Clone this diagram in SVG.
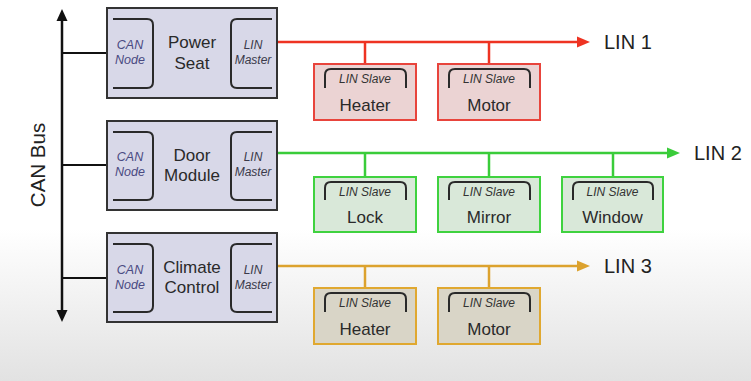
<svg xmlns="http://www.w3.org/2000/svg" width="751" height="381" viewBox="0 0 751 381">
  <defs>
    <linearGradient id="bg" x1="0" y1="0" x2="0" y2="1">
      <stop offset="0" stop-color="#ffffff"/>
      <stop offset="0.6" stop-color="#ffffff"/>
      <stop offset="1" stop-color="#e2e2e2"/>
    </linearGradient>
  </defs>
  <style>
    text { font-family: "Liberation Sans", Arial, sans-serif; text-anchor: middle; }
    .ecu { fill: #d8d8e8; stroke: #333; stroke-width: 2; }
    .brk { fill: none; stroke: #2a2a2a; stroke-width: 2; }
    .title { font-size: 17px; fill: #2a2a2a; }
    .can { font-size: 12.5px; font-style: italic; fill: #4a4a82; }
    .master { font-size: 12px; font-style: italic; fill: #3a3a4a; }
    .slv-lbl { font-size: 12px; font-style: italic; fill: #333; }
    .slv-name { font-size: 17px; fill: #2a2a2a; }
    .s-red { fill: #ebd3d3; stroke: #e8443c; stroke-width: 2; }
    .s-green { fill: #d9e8d9; stroke: #3fd23f; stroke-width: 2; }
    .s-orange { fill: #d9d5c7; stroke: #e0a830; stroke-width: 2; }
    .bus { stroke-width: 2.5; fill: none; }
    .red { stroke: #ee3322; }
    .green { stroke: #3acc3a; }
    .orange { stroke: #dca22e; }
    .lin-lbl { font-size: 20px; fill: #222; text-anchor: start; }
  </style>

  <rect width="751" height="381" fill="url(#bg)"/>

  <!-- connectors -->
  <g id="connectors">
    <!-- CAN bus backbone -->
    <line x1="62" y1="19" x2="62" y2="312" stroke="#111" stroke-width="2.5"/>
    <polygon points="62,9 56.5,21 67.5,21" fill="#111"/>
    <polygon points="62,322 56.5,310 67.5,310" fill="#111"/>
    <line x1="62" y1="53" x2="107" y2="53" stroke="#111" stroke-width="2"/>
    <line x1="62" y1="165" x2="107" y2="165" stroke="#111" stroke-width="2"/>
    <line x1="62" y1="278" x2="107" y2="278" stroke="#111" stroke-width="2"/>

    <!-- LIN 1 -->
    <line class="bus red" x1="277" y1="42" x2="579" y2="42"/>
    <polygon points="590,42 577,36.5 577,47.5" fill="#ee3322"/>
    <line class="bus red" x1="365" y1="42" x2="365" y2="64" stroke-width="2"/>
    <line class="bus red" x1="489" y1="42" x2="489" y2="64" stroke-width="2"/>

    <!-- LIN 2 -->
    <line class="bus green" x1="277" y1="153" x2="669" y2="153"/>
    <polygon points="680,153 667,147.5 667,158.5" fill="#3acc3a"/>
    <line class="bus green" x1="365" y1="153" x2="365" y2="177" stroke-width="2"/>
    <line class="bus green" x1="489" y1="153" x2="489" y2="177" stroke-width="2"/>
    <line class="bus green" x1="613" y1="153" x2="613" y2="177" stroke-width="2"/>

    <!-- LIN 3 -->
    <line class="bus orange" x1="277" y1="266" x2="579" y2="266"/>
    <polygon points="590,266 577,260.5 577,271.5" fill="#dca22e"/>
    <line class="bus orange" x1="365" y1="266" x2="365" y2="288" stroke-width="2"/>
    <line class="bus orange" x1="489" y1="266" x2="489" y2="288" stroke-width="2"/>
  </g>

  <g id="can-bus-label">
    <text transform="translate(45,165) rotate(-90)" font-size="20.5" fill="#222">CAN Bus</text>
  </g>

  <g id="lin-labels">
    <text class="lin-lbl" x="604" y="49">LIN 1</text>
    <text class="lin-lbl" x="694" y="160">LIN 2</text>
    <text class="lin-lbl" x="604" y="273">LIN 3</text>
  </g>

  <!-- ECU nodes -->
  <g id="power-seat" transform="translate(107,8)">
    <rect class="ecu" width="170" height="90"/>
    <path class="brk" d="M6,11 H40 Q46,11 46,17 V74 Q46,80 40,80 H6"/>
    <path class="brk" d="M165,11 H130 Q124,11 124,17 V74 Q124,80 130,80 H165"/>
    <text class="can" x="23" y="41">CAN</text>
    <text class="can" x="23" y="56">Node</text>
    <text class="title" x="85" y="40">Power</text>
    <text class="title" x="85" y="61">Seat</text>
    <text class="master" x="146" y="41">LIN</text>
    <text class="master" x="146" y="56">Master</text>
  </g>

  <g id="door-module" transform="translate(107,121)">
    <rect class="ecu" width="170" height="89"/>
    <path class="brk" d="M6,11 H40 Q46,11 46,17 V73 Q46,79 40,79 H6"/>
    <path class="brk" d="M165,11 H130 Q124,11 124,17 V73 Q124,79 130,79 H165"/>
    <text class="can" x="23" y="40">CAN</text>
    <text class="can" x="23" y="55">Node</text>
    <text class="title" x="85" y="40">Door</text>
    <text class="title" x="85" y="60">Module</text>
    <text class="master" x="146" y="40">LIN</text>
    <text class="master" x="146" y="55">Master</text>
  </g>

  <g id="climate-control" transform="translate(107,233)">
    <rect class="ecu" width="170" height="89"/>
    <path class="brk" d="M6,11 H40 Q46,11 46,17 V73 Q46,79 40,79 H6"/>
    <path class="brk" d="M165,11 H130 Q124,11 124,17 V73 Q124,79 130,79 H165"/>
    <text class="can" x="23" y="41">CAN</text>
    <text class="can" x="23" y="56">Node</text>
    <text class="title" x="85" y="40">Climate</text>
    <text class="title" x="85" y="60">Control</text>
    <text class="master" x="146" y="41">LIN</text>
    <text class="master" x="146" y="56">Master</text>
  </g>

  <!-- LIN slaves -->
  <g id="lin1-heater" transform="translate(314,64)">
    <rect class="s-red" width="102" height="56"/>
    <path class="brk" d="M11,24 V11 Q11,5 17,5 H86 Q92,5 92,11 V24"/>
    <text class="slv-lbl" x="51" y="19">LIN Slave</text>
    <text class="slv-name" x="51" y="47">Heater</text>
  </g>
  <g id="lin1-motor" transform="translate(438,64)">
    <rect class="s-red" width="102" height="56"/>
    <path class="brk" d="M11,24 V11 Q11,5 17,5 H86 Q92,5 92,11 V24"/>
    <text class="slv-lbl" x="51" y="19">LIN Slave</text>
    <text class="slv-name" x="51" y="47">Motor</text>
  </g>

  <g id="lin2-lock" transform="translate(314,177)">
    <rect class="s-green" width="102" height="55"/>
    <path class="brk" d="M11,23 V11 Q11,5 17,5 H86 Q92,5 92,11 V23"/>
    <text class="slv-lbl" x="51" y="18.5">LIN Slave</text>
    <text class="slv-name" x="51" y="45.5">Lock</text>
  </g>
  <g id="lin2-mirror" transform="translate(438,177)">
    <rect class="s-green" width="102" height="55"/>
    <path class="brk" d="M11,23 V11 Q11,5 17,5 H86 Q92,5 92,11 V23"/>
    <text class="slv-lbl" x="51" y="18.5">LIN Slave</text>
    <text class="slv-name" x="51" y="45.5">Mirror</text>
  </g>
  <g id="lin2-window" transform="translate(562,177)">
    <rect class="s-green" width="101" height="55"/>
    <path class="brk" d="M11,23 V11 Q11,5 17,5 H85 Q91,5 91,11 V23"/>
    <text class="slv-lbl" x="50.5" y="18.5">LIN Slave</text>
    <text class="slv-name" x="50.5" y="45.5">Window</text>
  </g>

  <g id="lin3-heater" transform="translate(314,288)">
    <rect class="s-orange" width="102" height="56"/>
    <path class="brk" d="M11,24 V11 Q11,5 17,5 H86 Q92,5 92,11 V24"/>
    <text class="slv-lbl" x="51" y="19">LIN Slave</text>
    <text class="slv-name" x="51" y="47">Heater</text>
  </g>
  <g id="lin3-motor" transform="translate(438,288)">
    <rect class="s-orange" width="102" height="56"/>
    <path class="brk" d="M11,24 V11 Q11,5 17,5 H86 Q92,5 92,11 V24"/>
    <text class="slv-lbl" x="51" y="19">LIN Slave</text>
    <text class="slv-name" x="51" y="47">Motor</text>
  </g>
</svg>
